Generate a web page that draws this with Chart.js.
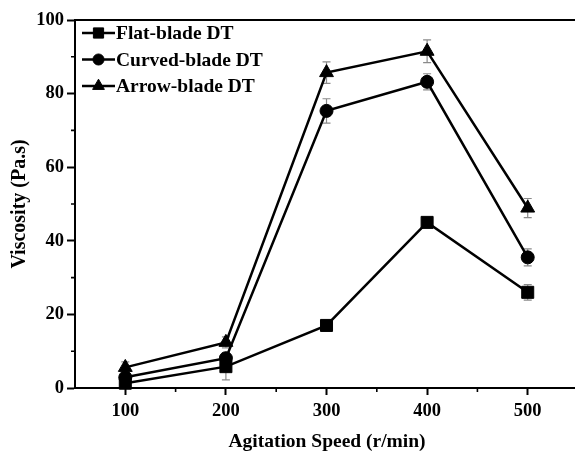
<!DOCTYPE html>
<html lang="en">
<head>
<meta charset="UTF-8" />
<title>Viscosity vs Agitation Speed</title>
<script src="https://cdn.jsdelivr.net/npm/chart.js"></script>
<style>
  * { margin: 0; padding: 0; box-sizing: border-box; }
  body { background: #fff; width: 575px; height: 453px; overflow: hidden; }
</style>
</head>
<body>
<canvas id="viscChart" width="575" height="453"></canvas>
<script>
  const speeds = [100, 200, 300, 400, 500];
  const flatBlade = [1.3, 5.8, 17, 45, 26];
  const curvedBlade = [2.9, 8.1, 75.3, 83.2, 35.5];
  const arrowBlade = [5.6, 12.4, 85.7, 91.5, 48.9];
  const flatErr = [0.8, 3.6, 0.6, 0.6, 2.1];
  const curvedErr = [1, 1.5, 3.3, 2.2, 2.3];
  const arrowErr = [1.5, 1.5, 2.9, 3.1, 2.6];
  const xTicks = [100, 200, 300, 400, 500];
  const yTicks = [0, 20, 40, 60, 80, 100];
  const xMinor = [150, 250, 350, 450];
  const yMinor = [10, 30, 50, 70, 90];

  const serif = "'Liberation Serif', 'Times New Roman', serif";

  function series(label, values, errors, style, radius) {
    return {
      label: label,
      data: speeds.map((s, i) => ({ x: s, y: values[i] })),
      errors: errors,
      borderColor: '#000',
      backgroundColor: '#000',
      borderWidth: 2.5,
      pointStyle: style,
      pointRadius: radius,
      pointBorderWidth: 1,
      tension: 0,
      clip: false
    };
  }

  // error bars, minor ticks, top frame line, legend, axis titles
  const extras = {
    id: 'extras',
    beforeDatasetsDraw(chart) {
      const { ctx, scales: { x, y } } = chart;
      ctx.save();
      ctx.strokeStyle = '#8a8a8a';
      ctx.lineWidth = 1.2;
      chart.data.datasets.forEach(ds => {
        ds.data.forEach((p, i) => {
          const px = x.getPixelForValue(p.x);
          const t = y.getPixelForValue(p.y + ds.errors[i]);
          const b = y.getPixelForValue(p.y - ds.errors[i]);
          ctx.beginPath();
          ctx.moveTo(px, t); ctx.lineTo(px, b);
          ctx.moveTo(px - 4, t); ctx.lineTo(px + 4, t);
          ctx.moveTo(px - 4, b); ctx.lineTo(px + 4, b);
          ctx.stroke();
        });
      });
      ctx.restore();
    },
    afterDraw(chart) {
      const { ctx, chartArea: area, scales: { x, y } } = chart;
      ctx.save();
      ctx.strokeStyle = '#000';
      ctx.lineWidth = 2;
      ctx.beginPath();
      ctx.moveTo(area.left - 1, area.top);
      ctx.lineTo(area.right, area.top);
      ctx.stroke();

      ctx.lineWidth = 1.6;
      ctx.beginPath();
      yMinor.forEach(v => {
        const py = y.getPixelForValue(v);
        ctx.moveTo(area.left, py); ctx.lineTo(area.left - 4, py);
      });
      xMinor.forEach(v => {
        const px = x.getPixelForValue(v);
        ctx.moveTo(px, area.bottom); ctx.lineTo(px, area.bottom + 4);
      });
      ctx.stroke();

      // legend
      ctx.font = 'bold 19.5px ' + serif;
      ctx.textBaseline = 'middle';
      ctx.textAlign = 'left';
      chart.data.datasets.forEach((ds, i) => {
        const ly = 33 + i * 26.5;
        ctx.strokeStyle = '#000';
        ctx.fillStyle = '#000';
        ctx.lineWidth = 2.5;
        ctx.beginPath();
        ctx.moveTo(82, ly); ctx.lineTo(115, ly);
        ctx.stroke();
        ctx.lineWidth = 1;
        Chart.helpers.drawPoint(ctx, { pointStyle: ds.pointStyle, radius: ds.pointRadius * 0.85, rotation: 0, borderWidth: 1 }, 98.5, ly);
        ctx.fillText(ds.label, 116, ly + 1);
      });

      // axis titles
      ctx.font = 'bold 19.5px ' + serif;
      ctx.textAlign = 'center';
      ctx.fillText('Agitation Speed (r/min)', 327, 442);
      ctx.font = 'bold 20px ' + serif;
      ctx.translate(20, (area.top + area.bottom) / 2);
      ctx.rotate(-Math.PI / 2);
      ctx.fillText('Viscosity (Pa.s)', 0, 0);
      ctx.restore();
    }
  };

  new Chart(document.getElementById('viscChart'), {
    type: 'line',
    data: {
      datasets: [
        series('Flat-blade DT', flatBlade, flatErr, 'rect', 8.5),
        series('Curved-blade DT', curvedBlade, curvedErr, 'circle', 6.5),
        series('Arrow-blade DT', arrowBlade, arrowErr, 'triangle', 8)
      ]
    },
    options: {
      responsive: false,
      animation: false,
      layout: { autoPadding: false, padding: { top: 20, left: 0, right: 0, bottom: 0 } },
      plugins: { legend: { display: false }, tooltip: { enabled: false } },
      scales: {
        x: {
          type: 'linear',
          min: 50,
          max: 547,
          afterBuildTicks: s => { s.ticks = xTicks.map(v => ({ value: v })); },
          afterFit: s => { s.height = 65; s.paddingLeft = 0; s.paddingRight = 0; },
          grid: { drawOnChartArea: false, tickLength: 7, tickWidth: 2, tickColor: '#000' },
          border: { display: true, color: '#000', width: 2 },
          ticks: { color: '#000', padding: 5, font: { family: serif, size: 18.5, weight: 'bold' } }
        },
        y: {
          min: 0,
          max: 100,
          afterBuildTicks: s => { s.ticks = yTicks.map(v => ({ value: v })); },
          afterFit: s => { s.width = 75; },
          grid: { drawOnChartArea: false, tickLength: 8, tickWidth: 2, tickColor: '#000' },
          border: { display: true, color: '#000', width: 2 },
          ticks: { color: '#000', padding: 3, font: { family: serif, size: 18.5, weight: 'bold' } }
        }
      }
    },
    plugins: [extras]
  });
</script>
</body>
</html>
